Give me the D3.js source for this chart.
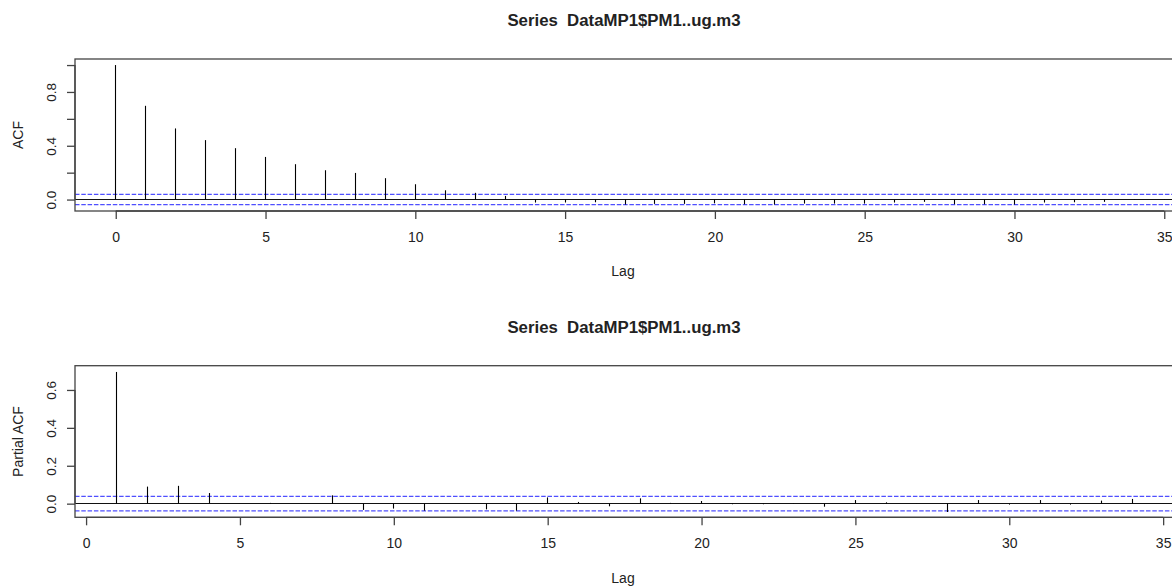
<!DOCTYPE html>
<html><head><meta charset="utf-8">
<script src="https://cdn.jsdelivr.net/npm/d3@7"></script>
<style>
body{margin:0;background:#fff}
svg{display:block}
text{font-family:"Liberation Sans",Arial,sans-serif;fill:#222}
</style>
</head><body>
<svg id="c" width="1172" height="586"></svg>
<script>
// ---------- data ----------
const mainTitle = "Series  DataMP1$PM1..ug.m3";
const xLabel = "Lag";
const acfYLabel = "ACF";
const pacfYLabel = "Partial ACF";

const acfLags = [0,1,2,3,4,5,6,7,8,9,10,11,12,13,14,15,16,17,18,19,20,21,22,23,24,25,26,27,28,29,30,31,32,33,34,35];
const acfValues = [1.0,0.697,0.529,0.442,0.382,0.317,0.263,0.218,0.198,0.159,0.114,0.069,0.050,0.027,
  -0.022,-0.022,-0.020,-0.037,-0.032,-0.032,-0.028,-0.035,-0.037,-0.030,-0.030,-0.030,-0.022,-0.017,
  -0.035,-0.035,-0.037,-0.022,-0.020,-0.017,-0.003,-0.002];

const pacfLags = [1,2,3,4,5,6,7,8,9,10,11,12,13,14,15,16,17,18,19,20,21,22,23,24,25,26,27,28,29,30,31,32,33,34,35];
const pacfValues = [0.695,0.090,0.094,0.056,0.001,0.004,0.000,0.044,-0.033,-0.026,-0.037,0.001,-0.030,-0.037,
  0.033,0.009,-0.014,0.028,0.004,0.014,-0.003,-0.003,0.003,-0.016,0.019,0.007,0.000,-0.044,0.019,-0.005,
  0.019,-0.005,0.016,0.025,0.001];

const confLimit = 0.038;

const xTicks = [0,5,10,15,20,25,30,35];
const acfYTicks = [0,0.2,0.4,0.6,0.8,1.0];
const acfYTickLabels = ["0.0","","0.4","","0.8",""];
const pacfYTicks = [0,0.2,0.4,0.6];
const pacfYTickLabels = ["0.0","0.2","0.4","0.6"];

// ---------- layout ----------
const svg = d3.select("#c");
const L = 75, R = 1205, titleX = 624;
const FONT = '"Liberation Sans",Arial,sans-serif';

function panel(opts){
  const {top,bottom,xDomain,yDomain,lags,values,yTicks,yTickLabels,ylab,titleY,lagY} = opts;
  const x = d3.scaleLinear().domain(xDomain).range([L,R]);
  const y = d3.scaleLinear().domain(yDomain).range([bottom,top]);
  const g = svg.append("g");
  const y0 = Math.round(y(0)) - 0.5;

  // confidence lines
  [confLimit,-confLimit].forEach(c=>{
    g.append("line").attr("x1",L).attr("x2",R).attr("y1",y(c)).attr("y2",y(c))
      .attr("stroke","#4f4fff").attr("stroke-width",1.3).attr("stroke-dasharray","4.5,1.8");
  });
  // zero line
  g.append("line").attr("x1",L).attr("x2",R).attr("y1",y0).attr("y2",y0)
    .attr("stroke","#111").attr("stroke-width",1);
  // spikes
  g.selectAll("line.spike").data(lags.map((l,i)=>({l,v:values[i]}))).join("line")
    .attr("class","spike")
    .attr("x1",d=>Math.floor(x(d.l))+0.5).attr("x2",d=>Math.floor(x(d.l))+0.5)
    .attr("y1",y0).attr("y2",d=>y(d.v))
    .attr("stroke","#000").attr("stroke-width",1.1);

  // box
  g.append("rect").attr("x",L).attr("y",top).attr("width",R-L).attr("height",bottom-top)
    .attr("fill","none").attr("stroke","#444").attr("stroke-width",1.3);

  // x axis
  const gx = g.append("g").attr("transform",`translate(0,${bottom})`)
    .call(d3.axisBottom(x).tickValues(xTicks).tickSize(8).tickFormat(d3.format("d")));
  gx.select(".domain").attr("d",`M${x(xTicks[0])},0H${x(xTicks[xTicks.length-1])}`)
    .attr("stroke","#444").attr("stroke-width",1.3);
  gx.selectAll(".tick line").attr("stroke","#444").attr("stroke-width",1.3);
  gx.selectAll(".tick text").attr("y",31).attr("dy",0)
    .style("font-size","14px").style("font-family",FONT).attr("fill","#222");

  // y axis
  const gy = g.append("g").attr("transform",`translate(${L},0)`)
    .call(d3.axisLeft(y).tickValues(yTicks).tickSize(8).tickFormat((d,i)=>yTickLabels[i]));
  gy.select(".domain").attr("d",`M0,${y(yTicks[0])}V${y(yTicks[yTicks.length-1])}`)
    .attr("stroke","#444").attr("stroke-width",1.3);
  gy.selectAll(".tick line").attr("stroke","#444").attr("stroke-width",1.3);
  gy.selectAll(".tick text").attr("x",0).attr("y",-19).attr("dy",0)
    .attr("transform","rotate(-90)").attr("text-anchor","middle")
    .style("font-size","13.5px").style("font-family",FONT).attr("fill","#222");

  // labels
  g.append("text").attr("transform",`translate(23,${(top+bottom)/2}) rotate(-90)`)
    .attr("text-anchor","middle").style("font-size","14px").text(ylab);
  g.append("text").attr("x",623).attr("y",lagY).attr("text-anchor","middle")
    .style("font-size","14px").text(xLabel);
  g.append("text").attr("x",titleX).attr("y",titleY).attr("text-anchor","middle")
    .style("font-size","16.8px").style("font-weight","bold").style("white-space","pre")
    .attr("xml:space","preserve").attr("fill","#000").text(mainTitle);
}

panel({top:59,bottom:211,xDomain:[-1.36,36.36],yDomain:[-0.085,1.045],
  lags:acfLags,values:acfValues,yTicks:acfYTicks,yTickLabels:acfYTickLabels,
  ylab:acfYLabel,titleY:25.5,lagY:275.5});
panel({top:365.7,bottom:517.3,xDomain:[-0.36,36.36],yDomain:[-0.072,0.728],
  lags:pacfLags,values:pacfValues,yTicks:pacfYTicks,yTickLabels:pacfYTickLabels,
  ylab:pacfYLabel,titleY:333,lagY:583});
</script>
</body></html>
